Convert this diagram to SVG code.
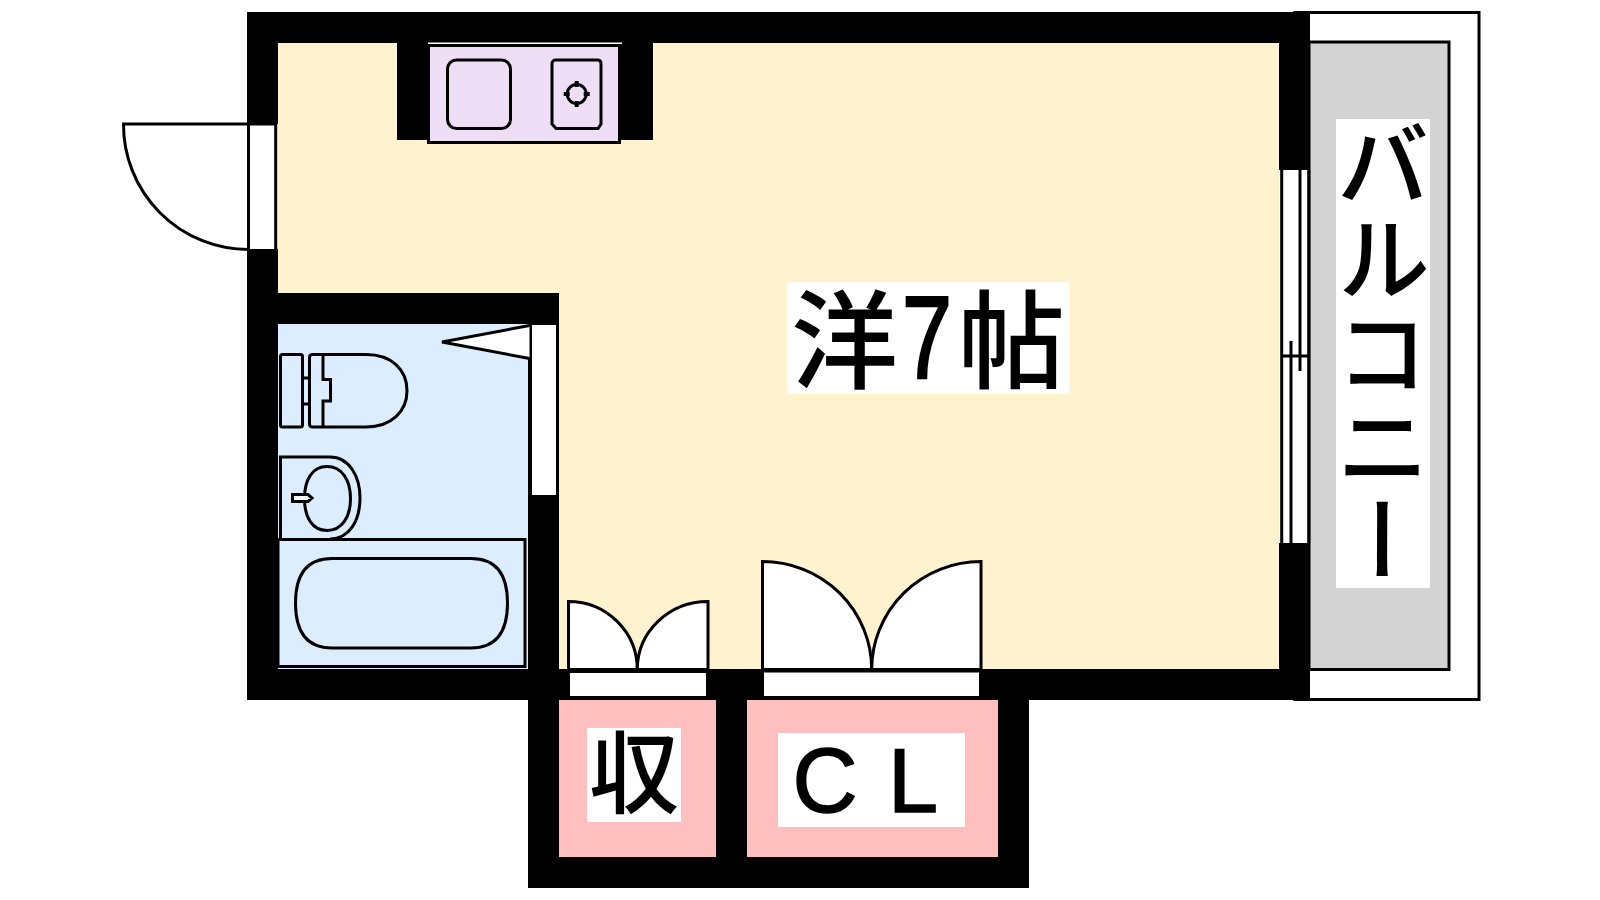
<svg xmlns="http://www.w3.org/2000/svg" width="1600" height="900" viewBox="0 0 1600 900">
<style>
.w{fill:#000}
.o{fill:none;stroke:#000;stroke-width:3}
.d{fill:#fff;stroke:#000;stroke-width:3}
.k{fill:#eedff7;stroke:#000;stroke-width:3}
.lb{fill:#fff}
text{font-family:"Noto Sans CJK JP","Noto Sans CJK SC",sans-serif;font-size:94px;font-weight:500;fill:#000}
</style>
<rect width="1600" height="900" fill="#fff"/>
<g id="rooms">
<rect x="278" y="43" width="1002" height="626" fill="#fff2cf"/>
<rect x="278" y="324" width="250" height="345" fill="#dbedff"/>
<rect x="1295" y="12.500" width="184" height="687" fill="none" stroke="#000" stroke-width="3"/>
<rect x="1309" y="42" width="140" height="627.500" fill="#d3d3d3" stroke="#000" stroke-width="3"/>
</g>
<g id="walls">
<rect class="w" x="247" y="12" width="1063" height="31"/>
<rect class="w" x="247" y="12" width="31" height="688"/>
<rect class="w" x="247" y="669" width="1063" height="31"/>
<rect class="w" x="1279" y="12" width="31" height="688"/>
<rect class="w" x="247" y="293" width="312" height="31"/>
<rect class="w" x="528" y="293" width="31" height="407"/>
<rect class="w" x="397" y="43" width="256" height="97"/>
<rect class="w" x="528" y="700" width="501" height="188"/>
<rect x="559" y="700" width="157" height="157" fill="#ffbfbf"/>
<rect x="747" y="700" width="251" height="157" fill="#ffbfbf"/>
</g>
<g id="entrance-door">
<rect class="lb" x="247" y="124" width="31" height="125"/>
<path class="d" d="M248.500 124H123.500A125 125 0 0 0 248.500 249.500Z"/>
<path class="o" d="M248.500 124H277M275.700 124V249"/>
</g>
<g id="kitchen">
<rect x="428" y="42.500" width="194" height="1.500" fill="#fff"/>
<rect class="k" x="428.500" y="45.500" width="191" height="97"/>
<rect class="o" x="447.500" y="60" width="63" height="68.500" rx="9"/>
<path class="o" d="M556 60H598A3.500 3.500 0 0 1 601 63.500V124L598 128.500H556L552 124V63.500A3.500 3.500 0 0 1 556 60Z"/>
<circle class="o" cx="576.700" cy="94" r="9.500"/>
<path d="M576.700 81V87M576.700 101V107M563.700 94H569.700M583.700 94H589.700" fill="none" stroke="#000" stroke-width="4"/>
</g>
<g id="bath-door">
<rect class="lb" x="530" y="325" width="29" height="170"/>
<path class="o" d="M530.500 325V495M557.500 325V495"/>
<path class="d" d="M529.500 325.500L442 342L529.500 358.500"/>
</g>
<g id="toilet">
<rect class="o" x="280.500" y="354.500" width="22" height="72.500" rx="2"/>
<path class="o" d="M302.500 378H309.500M302.500 404H309.500"/>
<path class="o" d="M323 354.500H312A3 3 0 0 0 309.500 357.500V424A3 3 0 0 0 312 427H323"/>
<path class="o" d="M323 354V379.500H330.500V401H323V428"/>
<path class="o" d="M323 354.500H366C392 354.500 407 370 407 390.700C407 411 392 427 366 427H323"/>
</g>
<g id="washbasin">
<path class="o" d="M280.500 538V457H330C349 457 360 476 360 498C360 521 349 539 330 539"/>
<path class="o" d="M327 466.500C342 466.500 350.500 480 350.500 498.500C350.500 517 342 530.500 327 530.500C312 530.500 304.500 517 304.500 498.500C304.500 480 312 466.500 327 466.500Z"/>
<path class="d" d="M292.500 494.500H308L312 498L308 501.500H292.500Z"/>
</g>
<g id="bathtub">
<rect class="o" x="278" y="539.500" width="247" height="127"/>
<path class="o" d="M332 558.500H471C496 558.500 507.500 574 507.500 603C507.500 632 496 648 471 648H332C307 648 295.500 632 295.500 603C295.500 574 307 558.500 332 558.500Z"/>
</g>
<g id="storage-door">
<rect class="lb" x="570" y="671" width="136" height="27"/>
<path class="d" d="M568.500 669.500V601.500A68.800 68 0 0 1 637.300 669.500Z"/>
<path class="d" d="M708 669.500V601.500A70.700 68 0 0 0 637.300 669.500Z"/>
<path class="o" d="M568 671.500H708M569 697.500H707"/>
</g>
<g id="closet-door">
<rect class="lb" x="764" y="671" width="215" height="27"/>
<path class="d" d="M762.500 669.500V561.500A109.200 108 0 0 1 871.700 669.500Z"/>
<path class="d" d="M981 669.500V561.500A109.300 108 0 0 0 871.700 669.500Z"/>
<path class="o" d="M763 671H981M764 697.500H979"/>
</g>
<g id="window">
<rect class="lb" x="1279" y="170" width="31" height="373"/>
<path class="o" d="M1281.700 170V543M1308.700 170V543M1300 170V371M1291 341V543M1281.700 356H1308.700"/>
</g>
<g id="label-room">
<rect class="lb" x="787" y="282" width="282" height="112"/>
<text y="380" style="font-size:107px"><tspan x="791">洋</tspan><tspan x="902" y="378" textLength="50" lengthAdjust="spacingAndGlyphs" style="font-family:'Liberation Sans','Noto Sans CJK JP',sans-serif;font-size:117px;font-weight:400;stroke:#000;stroke-width:2.500px">7</tspan><tspan x="958" y="380">帖</tspan></text>
</g>
<g id="label-storage">
<rect class="lb" x="587" y="728" width="94" height="94"/>
<text x="589" y="806" style="font-size:90px">収</text>
</g>
<g id="label-closet">
<rect class="lb" x="778" y="733" width="187" height="94"/>
<text x="792.500 888" y="812" style="font-family:'Liberation Sans',sans-serif;font-size:90px;font-weight:400;stroke:#000;stroke-width:1.500px">CL</text>
</g>
<g id="label-balcony">
<rect class="lb" x="1336" y="119" width="94" height="469"/>
<text x="1383" y="117" writing-mode="vertical-rl">バルコニー</text>
</g>
</svg>
